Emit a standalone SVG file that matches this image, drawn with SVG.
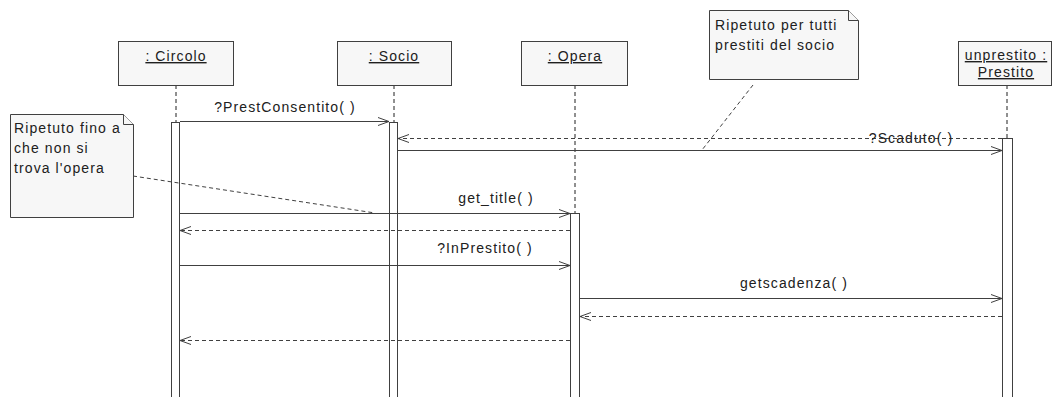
<svg xmlns="http://www.w3.org/2000/svg" width="1055" height="397" viewBox="0 0 1055 397">
  <style>
    .obj { fill: #f7f7f7; stroke: #404040; stroke-width: 1; }
    .note { fill: #f7f7f7; stroke: #404040; stroke-width: 1; }
    .bar { fill: #ffffff; stroke: #404040; stroke-width: 1; }
    .life { stroke: #202020; stroke-width: 1; stroke-dasharray: 4 3; fill: none; }
    .msg { stroke: #404040; stroke-width: 1; fill: none; }
    .ret { stroke: #404040; stroke-width: 1; stroke-dasharray: 4 3; fill: none; }
    .link { stroke: #404040; stroke-width: 1; stroke-dasharray: 4 3; fill: none; }
    text { font-family: "Liberation Sans", Arial, sans-serif; font-size: 14px; letter-spacing: 1.1px; fill: #202020; }
    .name { text-anchor: middle; text-decoration: underline; }
    .lbl { text-anchor: middle; }
  </style>
  <defs>
    <marker id="open" markerWidth="12" markerHeight="10" refX="11" refY="5" orient="auto" markerUnits="userSpaceOnUse">
      <path d="M0,1 L11,5 L0,9" fill="none" stroke="#404040" stroke-width="1"/>
    </marker>
  </defs>

  <!-- lifelines -->
  <g id="lifelines">
    <line class="life" x1="176" y1="85" x2="176" y2="122"/>
    <line class="life" x1="394" y1="85" x2="394" y2="122"/>
    <line class="life" x1="575" y1="85" x2="575" y2="213"/>
    <line class="life" x1="1007" y1="85" x2="1007" y2="138"/>
  </g>

  <g id="circolo">
    <rect class="obj" x="118.5" y="41.5" width="115" height="44"/>
    <text class="name" x="176" y="61">: Circolo</text>
    <rect class="bar" x="171.5" y="122.5" width="8" height="290"/>
  </g>

  <g id="socio">
    <rect class="obj" x="337.5" y="41.5" width="114" height="44"/>
    <text class="name" x="394" y="61">: Socio</text>
    <rect class="bar" x="389.5" y="122.5" width="8" height="290"/>
  </g>

  <g id="opera">
    <rect class="obj" x="521.5" y="41.5" width="106" height="44"/>
    <text class="name" x="575" y="61">: Opera</text>
    <rect class="bar" x="570.5" y="213.5" width="9" height="200"/>
  </g>

  <g id="prestito">
    <rect class="obj" x="958.5" y="41.5" width="93" height="44"/>
    <text class="name" x="1006" y="60">unprestito :</text>
    <text class="name" x="1006" y="77">Prestito</text>
    <rect class="bar" x="1002.5" y="138.5" width="10" height="270"/>
  </g>

  <g id="note-opera">
    <path class="note" d="M10.5,114.5 H123.5 L133.5,124.5 V217.5 H10.5 Z"/>
    <path class="note" d="M123.5,114.5 V124.5 H133.5" fill="none"/>
    <text x="14" y="133">Ripetuto fino a</text>
    <text x="14" y="153">che non si</text>
    <text x="14" y="173">trova l'opera</text>
  </g>

  <g id="note-prestiti">
    <path class="note" d="M709.5,10.5 H848.5 L858.5,20.5 V79.5 H709.5 Z"/>
    <path class="note" d="M848.5,10.5 V20.5 H858.5" fill="none"/>
    <text x="715" y="30">Ripetuto per tutti</text>
    <text x="715" y="50">prestiti del socio</text>
  </g>

  <g id="connectors">
    <line class="link" x1="133" y1="176" x2="375" y2="213"/>
    <line class="link" x1="753" y1="85" x2="702" y2="150"/>

    <line class="msg" x1="180" y1="121.5" x2="389" y2="121.5" marker-end="url(#open)"/>
    <text class="lbl" x="285" y="112">?PrestConsentito( )</text>

    <line class="ret" x1="1002" y1="138.5" x2="398" y2="138.5" marker-end="url(#open)"/>
    <line class="msg" x1="398" y1="150.5" x2="1002" y2="150.5" marker-end="url(#open)"/>
    <text class="lbl" x="911" y="143">?Scaduto( )</text>

    <line class="msg" x1="180" y1="213.5" x2="570" y2="213.5" marker-end="url(#open)"/>
    <text class="lbl" x="496" y="203">get_title( )</text>

    <line class="ret" x1="570" y1="230.5" x2="180" y2="230.5" marker-end="url(#open)"/>

    <line class="msg" x1="180" y1="265.5" x2="570" y2="265.5" marker-end="url(#open)"/>
    <text class="lbl" x="485" y="253">?InPrestito( )</text>

    <line class="msg" x1="580" y1="298.5" x2="1002" y2="298.5" marker-end="url(#open)"/>
    <text class="lbl" x="794" y="288">getscadenza( )</text>

    <line class="ret" x1="1002" y1="316.5" x2="580" y2="316.5" marker-end="url(#open)"/>

    <line class="ret" x1="570" y1="340.5" x2="180" y2="340.5" marker-end="url(#open)"/>
  </g>
</svg>
